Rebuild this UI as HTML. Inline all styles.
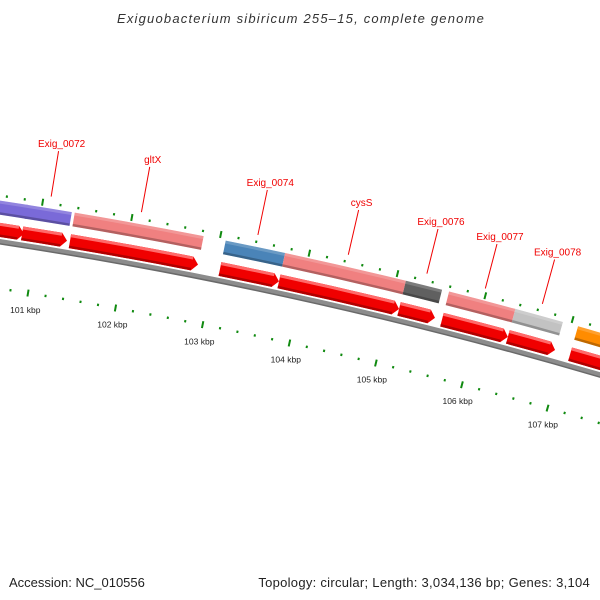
<!DOCTYPE html>
<html><head><meta charset="utf-8"><style>
html,body{margin:0;padding:0;background:#fff;}
svg{display:block;font-family:"Liberation Sans","DejaVu Sans",sans-serif;}
</style></head><body>
<svg id="map" width="600" height="600" viewBox="0 0 600 600" xmlns="http://www.w3.org/2000/svg">
<text x="301" y="23" text-anchor="middle" font-size="13" font-style="italic" letter-spacing="1.2" fill="#333">Exiguobacterium sibiricum 255–15, complete genome</text>
<g id="plot"></g>
<text x="9" y="587" font-size="13" fill="#222">Accession: NC_010556</text>
<text x="590" y="587" text-anchor="end" font-size="13" letter-spacing="0.28" fill="#222">Topology: circular; Length: 3,034,136 bp; Genes: 3,104</text>
</svg>
<script>
const geneStarts = [98500, 100830, 101369, 103067, 103738, 105109, 105601, 106359, 107078];
const geneEnds   = [100851, 101336, 102818, 103738, 105109, 105521, 106359, 106904, 108400];
const geneLabels = ["Exig_0071", "Exig_0072", "gltX", "Exig_0074", "cysS", "Exig_0076", "Exig_0077", "Exig_0078", "Exig_0079"];
const geneColors = ["#7a6ad8", "#7a6ad8", "#f08080", "#4a84b8", "#f08080", "#606060", "#f08080", "#c2c2c2", "#ff8c00"];
const tickStart = 99000;
const tickEnd = 109000;
const tickStep = 200;

const NS = "http://www.w3.org/2000/svg";
const CX = -698, CY = 4803;
function ang(bp){ return 9.145 + (bp - 101000) * 0.001113; }
function pt(th, r){ const a = th*Math.PI/180; return [CX + r*Math.sin(a), CY - r*Math.cos(a)]; }
function f(p){ return p[0].toFixed(2)+" "+p[1].toFixed(2); }
function band(t1,t2,ro,ri){
  return "M"+f(pt(t1,ro))+" A"+ro+" "+ro+" 0 0 1 "+f(pt(t2,ro))+" L"+f(pt(t2,ri))+" A"+ri+" "+ri+" 0 0 0 "+f(pt(t1,ri))+" Z";
}
function arrow(t1,t2,ro,ri){
  const h = 6/ri*180/Math.PI;
  const th = Math.max(t1, t2-h);
  const rm = (ro+ri)/2;
  return "M"+f(pt(t1,ro))+" A"+ro+" "+ro+" 0 0 1 "+f(pt(th,ro))+" L"+f(pt(t2,rm))+" L"+f(pt(th,ri))+" A"+ri+" "+ri+" 0 0 0 "+f(pt(t1,ri))+" Z";
}
const g = document.getElementById("plot");
function mk(tag, attrs){ const e=document.createElementNS(NS,tag); for(const k in attrs) e.setAttribute(k,attrs[k]); g.appendChild(e); return e; }

const t0 = ang(98000), t9 = ang(109500);
let bb = mk("path",{d:band(t0,t9,4617,4612),fill:"#8c8c8c"});


let bb2 = mk("path",{d:band(t0,t9,4613,4611.5),fill:"#6a6a6a"});



for(let bp=tickStart; bp<=tickEnd; bp+=tickStep){
  const major = bp % 1000 === 0;
  const t = ang(bp);
  [4568, 4660].forEach(function(rc){
    const L = major ? 3.5 : 1.2;
    const a = pt(t, rc-L), b = pt(t, rc+L);
    const ln = mk("line",{x1:a[0],y1:a[1],x2:b[0],y2:b[1],stroke:"#108a10","stroke-width":2});
    
    
  });
  if(major){
    const p = pt(t, 4551);
    const tx = mk("text",{x:p[0].toFixed(1),y:(p[1]+3).toFixed(1),"text-anchor":"middle","font-size":"8.5",fill:"#222"});
    tx.textContent = (bp/1000)+" kbp";
    
    
  }
}

for(let i=0;i<geneStarts.length;i++){
  const t1 = ang(geneStarts[i]), t2 = ang(geneEnds[i]);
  const cb = mk("path",{d:band(t1,t2,4655,4641),fill:geneColors[i]});
  
  
  const hi = mk("path",{d:band(t1,t2,4655,4652),fill:"#ffffff","fill-opacity":"0.18"});
  
  
  const sh = mk("path",{d:band(t1,t2,4643.5,4641),fill:"#000000","fill-opacity":"0.25"});
  
  
  const ar = mk("path",{d:arrow(t1,t2,4633,4619),fill:"#f00000"});
  
  
  const ah = mk("path",{d:band(t1,Math.max(t1,t2-6/4630*180/Math.PI),4633,4630),fill:"#ff6a6a"});
  
  
  const as = mk("path",{d:band(t1,Math.max(t1,t2-6/4620*180/Math.PI),4621.5,4619),fill:"#b00000"});
  
  
  const tm = ang((geneStarts[i]+geneEnds[i])/2);
  const a = pt(tm,4667), b = pt(tm,4713);
  const ln = mk("line",{x1:a[0],y1:a[1],x2:b[0],y2:b[1],stroke:"#f00000","stroke-width":1});
  
  
  const lt = mk("text",{x:(b[0]+3).toFixed(1),y:(b[1]-4).toFixed(1),"text-anchor":"middle","font-size":"10",fill:"#f00000"});
  lt.textContent = geneLabels[i];
  
  
}
</script>
</body></html>
